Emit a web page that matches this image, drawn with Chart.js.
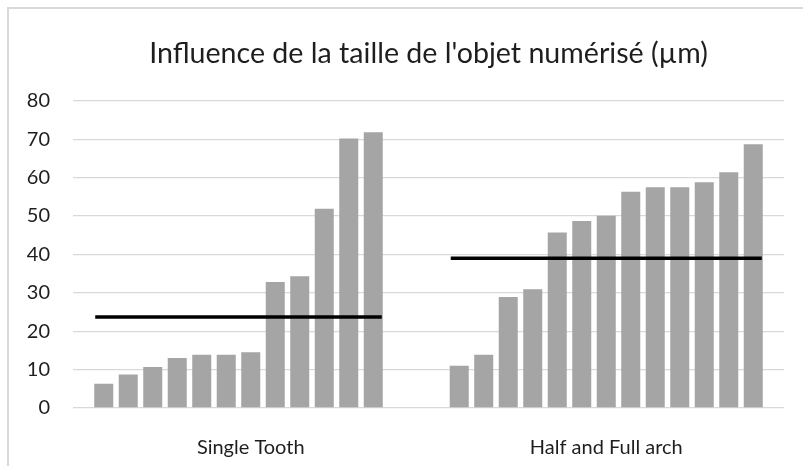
<!DOCTYPE html>
<html>
<head>
<meta charset="utf-8">
<script src="https://cdn.jsdelivr.net/npm/chart.js@4"></script>
<style>
  html, body { margin: 0; padding: 0; background: #fff; }
  #wrap { position: relative; width: 803px; height: 466px; }
  #frame {
    position: absolute; left: 7px; top: 7px; right: -4px; bottom: -4px;
    border-left: 2px solid #d9d9d9; border-top: 2px solid #d9d9d9;
  }
  canvas { position: absolute; left: 0; top: 0; }
</style>
</head>
<body>
<div id="wrap">
  <div id="frame"></div>
  <canvas id="chart" width="803" height="466"></canvas>
</div>
<script>
const categories = ['Single Tooth', 'Half and Full arch'];
const singleTooth = [6.3, 8.7, 10.7, 13.0, 13.9, 13.9, 14.5, 32.8, 34.3, 51.9, 70.2, 71.8];
const fullArch = [11.0, 13.9, 28.9, 30.9, 45.7, 48.7, 50.1, 56.3, 57.5, 57.5, 58.8, 61.4, 68.7];
const medians = [23.7, 39.0];
const yMax = 80;
const yStep = 10;

const FONT = 'Lato, "Open Sans", sans-serif';
const TEXT = '#1e1e1e';

// one dataset per rank, so each category gets a cluster of bars
const groups = [singleTooth, fullArch];
const nSeries = Math.max(singleTooth.length, fullArch.length);
const datasets = [];
for (let i = 0; i < nSeries; i++) {
    datasets.push({
        label: 'S' + (i + 1),
        data: groups.map(g => (i < g.length ? g[i] : null)),
        backgroundColor: '#a5a5a5',
        borderWidth: 0,
        categoryPercentage: 0.896,
        barPercentage: 0.776
    });
}

// horizontal median line across each cluster
const medianLines = {
    id: 'medianLines',
    afterDatasetsDraw: function (chart) {
        const ctx = chart.ctx;
        const y = chart.scales.y;
        ctx.save();
        ctx.strokeStyle = '#000';
        ctx.lineWidth = 3.5;
        medians.forEach(function (m, ci) {
            let left = null, right = null;
            chart.data.datasets.forEach(function (ds, di) {
                if (ds.data[ci] === null) return;
                const bar = chart.getDatasetMeta(di).data[ci];
                const l = bar.x - bar.width / 2;
                const r = bar.x + bar.width / 2;
                if (left === null || l < left) left = l;
                if (right === null || r > right) right = r;
            });
            const py = y.getPixelForValue(m);
            ctx.beginPath();
            ctx.moveTo(left + 1, py);
            ctx.lineTo(right - 1, py);
            ctx.stroke();
        });
        ctx.restore();
    }
};

new Chart(document.getElementById('chart'), {
    type: 'bar',
    data: { labels: categories, datasets: datasets },
    plugins: [medianLines],
    options: {
        responsive: false,
        animation: false,
        layout: { padding: { top: 18, right: 19, bottom: 0, left: 0 } },
        plugins: {
            legend: { display: false },
            tooltip: { enabled: false },
            title: {
                display: true,
                fullSize: false,
                text: "Influence de la taille de l'objet numérisé (µm)",
                color: TEXT,
                font: { family: FONT, size: 28.6, weight: 'normal' },
                padding: { top: 19, bottom: 29.5 }
            }
        },
        scales: {
            x: {
                grid: { display: false },
                border: { display: false },
                ticks: {
                    color: TEXT,
                    font: { family: FONT, size: 20 },
                    padding: 20,
                    maxRotation: 0
                },
                afterFit: function (scale) { scale.height = 58; }
            },
            y: {
                min: 0,
                max: yMax,
                ticks: {
                    stepSize: yStep,
                    color: TEXT,
                    font: { family: FONT, size: 20 },
                    padding: 23
                },
                grid: { color: '#d9d9d9', lineWidth: 1.3, drawTicks: false },
                border: { display: false },
                afterFit: function (scale) { scale.width = 73; }
            }
        }
    }
});
</script>
</body>
</html>
